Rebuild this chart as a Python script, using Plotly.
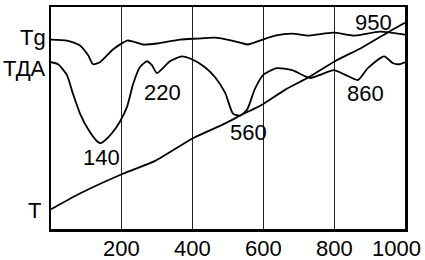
import plotly.graph_objects as go

# Temperature axis (°C) and signals (arbitrary units)
tg_t = [0, 45, 82, 105, 119, 138, 175, 215, 232, 260, 299, 364, 412, 463, 511, 556, 590, 633, 681, 729, 797, 859, 929, 1000]
tg_v = [192, 191, 186, 176, 167, 169, 182, 191, 190, 187, 188, 192, 193, 194, 191, 187, 191, 196, 198, 196, 199, 196, 200, 197]

dta_t = [0, 20, 45, 62, 82, 105, 130, 141, 153, 172, 195, 215, 232, 251, 271, 285, 299, 316, 336, 370, 398, 435, 463,
         492, 514, 534, 554, 576, 599, 638, 681, 732, 766, 799, 833, 867, 895, 941, 966, 983, 1000]
dta_v = [169, 167, 156, 137, 117, 101, 89, 87, 90, 97, 109, 124, 147, 164, 170, 166, 158, 163, 170, 175, 172, 164, 154,
         138, 117, 115, 121, 142, 156, 163, 161, 153, 157, 161, 156, 151, 163, 175, 168, 167, 169]

temp_t = [0, 76, 203, 294, 401, 492, 540, 596, 661, 729, 802, 879, 955, 1000]
temp_v = [20, 35, 56, 69, 92, 107, 116, 126, 141, 154, 170, 184, 200, 209]

tick_vals = [200, 400, 600, 800, 1000]
tick_text = ["200", "400", "600", "800", "1000"]

curve_names = ["Tg", "ТДА", "T"]
name_v = [194, 163, 19]
peak_labels = ["140", "220", "560", "860", "950"]
peak_t = [144, 314, 559, 887, 912]
peak_v = [72, 138, 98, 137, 209]

FONT = "Liberation Sans, Arial, sans-serif"

fig = go.Figure()
for xs, ys in [(tg_t, tg_v), (dta_t, dta_v), (temp_t, temp_v)]:
    fig.add_trace(go.Scatter(x=xs, y=ys, mode="lines", line=dict(color="black", width=1.8, shape="spline", smoothing=0.6),
                             showlegend=False, hoverinfo="skip"))

ann = []
# curve names at left
for name, y, xs in zip(curve_names, name_v, [-3, -3, -8]):
    ann.append(dict(x=0, y=y, xref="x", yref="y", text=name, showarrow=False, xanchor="right", yanchor="middle",
                    xshift=xs, font=dict(size=22, color="black", family=FONT)))
# peak labels
for lab, x, y in zip(peak_labels, peak_t, peak_v):
    ann.append(dict(x=x, y=y, xref="x", yref="y", text=lab, showarrow=False, xanchor="center", yanchor="middle",
                    font=dict(size=22, color="black", family=FONT)))
# tick labels
for v, t in zip(tick_vals, tick_text):
    ann.append(dict(x=v, y=0, xref="x", yref="paper", text=t, showarrow=False, xanchor="center", yanchor="middle",
                    yshift=-19, xshift=-9 if v == 1000 else 0, font=dict(size=22, color="black", family=FONT)))

fig.update_layout(
    width=425, height=260, margin=dict(l=51, r=20, t=4, b=31),
    paper_bgcolor="white", plot_bgcolor="white",
    annotations=ann,
    xaxis=dict(range=[0, 1000], tickvals=tick_vals[:-1], showticklabels=False, ticks="", showgrid=True,
               gridcolor="#222", gridwidth=1, showline=True, linecolor="black", linewidth=2.5, mirror=True,
               zeroline=False),
    yaxis=dict(range=[0, 225], showgrid=False, showticklabels=False, ticks="", showline=True, linecolor="black",
               linewidth=2.5, mirror=True, zeroline=False),
)
fig.write_html("out.html", config={"displayModeBar": False, "staticPlot": True},
               post_script="document.body.style.margin='0';document.body.style.overflow='hidden';")
